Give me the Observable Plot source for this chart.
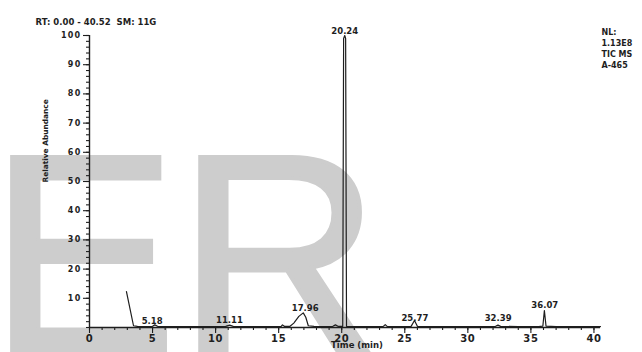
<!DOCTYPE html>
<html>
<head>
<meta charset="utf-8">
<script src="https://cdn.jsdelivr.net/npm/d3@7"></script>
<script src="https://cdn.jsdelivr.net/npm/@observablehq/plot@0.6"></script>
<style>
  html, body { margin: 0; padding: 0; background: #fff; }
  #chart { width: 642px; height: 352px; overflow: hidden; }
  g[aria-label="y-axis tick label"] text { letter-spacing: 1.3px; }
  g[aria-label="x-axis tick label"] text { letter-spacing: 0.6px; }
  g[aria-label="peak labels"] text { letter-spacing: 1.3px; }
  g[aria-label="header"] text { letter-spacing: 1.7px; }
  g[aria-label="nl block"] text { letter-spacing: 2px; }
  g[aria-label="x title"] text { letter-spacing: 0.8px; }
</style>
</head>
<body>
<div id="chart"></div>
<script>
// ---- data ----
const times = [2.93, 3.49, 3.8, 4.5, 5.0, 5.18, 5.4, 6.5, 8, 9.5, 10.8, 11.11, 11.4, 13, 14.5, 15.2, 15.3, 15.45,
  15.9, 16.2, 16.6, 16.95, 17.15, 17.35, 17.8, 18.6, 19.3, 19.5, 19.7, 20.08, 20.15, 20.24, 20.31, 20.38,
  21, 22, 23.3, 23.45, 23.6, 24.5, 25.5, 25.77, 26.0, 27, 28.5, 30, 31.5, 32.2, 32.39, 32.6, 34, 35.6,
  35.95, 36.07, 36.2, 37, 38.5, 40.0, 40.52];
const abundance = [12.3, 0.6, 0.4, 0.3, 0.4, 0.9, 0.4, 0.3, 0.3, 0.3, 0.4, 0.8, 0.4, 0.3, 0.3, 0.4, 0.9, 0.4,
  0.4, 1.5, 3.8, 5.0, 3.5, 0.6, 0.4, 0.3, 0.4, 0.9, 0.4, 0.4, 99, 100, 99, 0.4,
  0.3, 0.3, 0.4, 1.0, 0.4, 0.3, 0.4, 2.4, 0.4, 0.3, 0.3, 0.3, 0.3, 0.4, 0.8, 0.4, 0.3, 0.3,
  0.5, 5.8, 0.5, 0.3, 0.3, 0.3, 0.3];

const peakLabels = ["5.18", "11.11", "17.96", "20.24", "25.77", "32.39", "36.07"];
const peakLabelX = [4.97, 11.1, 17.1, 20.24, 25.8, 32.4, 36.1];
const peakLabelY = [2.2, 2.4, 6.7, 101.4, 3.1, 3.1, 7.7];

const xTickLabels = [0, 5, 10, 15, 20, 25, 30, 35, 40];
const xMinorTicks = d3.range(0, 41, 1);
const yTickLabels = [10, 20, 30, 40, 50, 60, 70, 80, 90, 100];
const yMinorTicks = d3.range(0, 101, 2);

const headerText = "RT: 0.00 - 40.52  SM: 11G";
const nlText = "NL:\n1.13E8\nTIC MS\nA-465";
const xTitle = "Time (min)";
const yTitle = "Relative Abundance";
const watermark = "ER";

const trace = times.map((t, i) => ({t, a: abundance[i]}));
const peaks = peakLabels.map((s, i) => ({s, x: peakLabelX[i], y: peakLabelY[i]}));

const ink = "#1e1e1e";
const font = "DejaVu Sans";

const svg = Plot.plot({
  width: 642,
  height: 352,
  marginLeft: 89,
  marginRight: 42,
  marginTop: 35,
  marginBottom: 25,
  style: {background: "transparent", fontFamily: font, overflow: "visible"},
  x: {domain: [0, 40.52], label: null},
  y: {domain: [0, 100], label: null},
  marks: [
    // axes
    Plot.axisY(yMinorTicks, {tickSize: 3, fill: "none", stroke: ink, strokeWidth: 1.1, label: null}),
    Plot.axisY(yTickLabels, {tickSize: 6, tickPadding: 2, fontSize: 8, fontWeight: "bold", fill: ink, stroke: ink, strokeWidth: 1.1, label: null}),
    Plot.axisX(xMinorTicks, {tickSize: 3, fill: "none", stroke: ink, strokeWidth: 1.1, label: null}),
    Plot.axisX(xTickLabels, {tickSize: 6, tickPadding: 1, fontSize: 10, fontWeight: "bold", fill: ink, stroke: ink, strokeWidth: 1.1, label: null}),
    Plot.ruleX([0], {y1: 0, y2: 100, stroke: ink, strokeWidth: 1.4}),
    Plot.ruleY([0], {x1: 0, x2: 40.52, stroke: ink, strokeWidth: 1.4}),
    // chromatogram trace
    Plot.line(trace, {x: "t", y: "a", stroke: ink, strokeWidth: 1.2}),
    // peak labels
    Plot.text(peaks, {x: "x", y: "y", text: "s", fontSize: 8.5, fontWeight: "bold", fill: ink, ariaLabel: "peak labels"}),
    // header and info block
    Plot.text([headerText], {frameAnchor: "top-left", dx: -54, dy: -17, textAnchor: "start", fontSize: 8.5, fontWeight: "bold", fill: ink, ariaLabel: "header"}),
    Plot.text([nlText], {frameAnchor: "top-right", dx: 1, dy: -8, textAnchor: "start", lineAnchor: "top", lineHeight: 1.375, fontSize: 8, fontWeight: "bold", fill: ink, ariaLabel: "nl block"}),
    // axis titles
    Plot.text([xTitle], {frameAnchor: "bottom", dx: 12, dy: 20, fontSize: 8.5, fontWeight: "bold", fill: ink, ariaLabel: "x title"}),
    Plot.text([yTitle], {frameAnchor: "left", dx: -44, dy: 1, rotate: -90, fontSize: 7.4, fontWeight: "bold", fill: ink, ariaLabel: "y title"})
  ]
});

// watermark behind everything
d3.select(svg).insert("text", ":first-child")
  .attr("x", -11)
  .attr("y", 351)
  .attr("text-anchor", "start")
  .attr("font-family", "Liberation Sans")
  .attr("font-size", 282)
  .attr("fill", "#cdcdcd")
  .attr("stroke", "#cdcdcd")
  .attr("stroke-width", 4)
  .attr("stroke-linejoin", "miter")
  .text(watermark);

document.getElementById("chart").appendChild(svg);
</script>
</body>
</html>
